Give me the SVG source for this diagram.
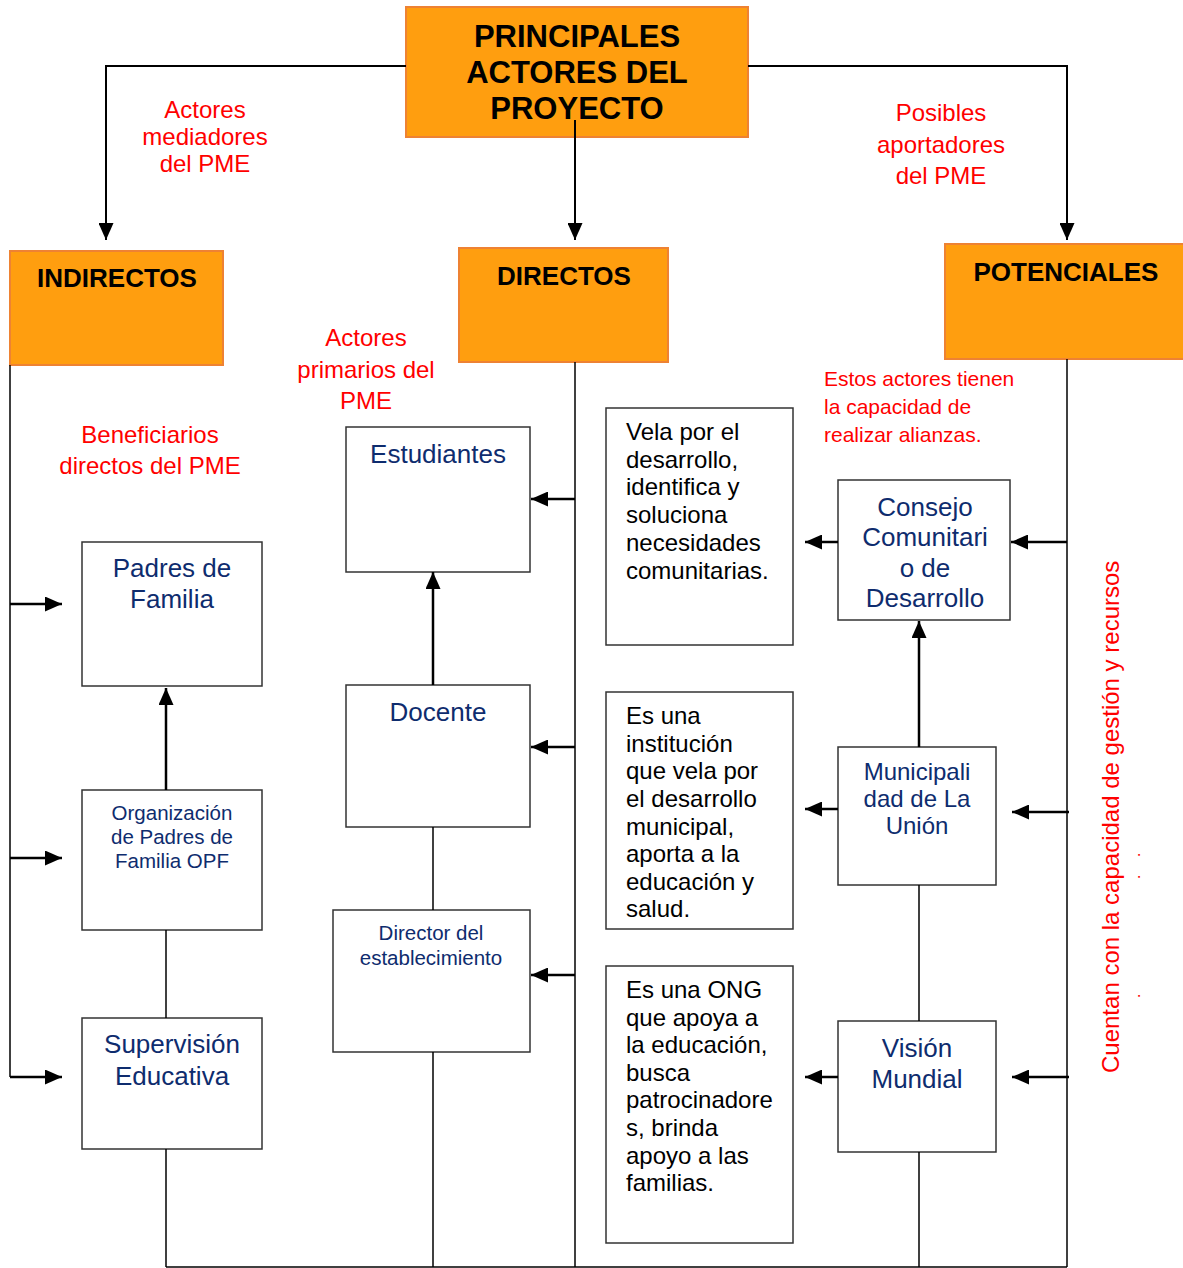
<svg xmlns="http://www.w3.org/2000/svg" width="1183" height="1268" viewBox="0 0 1183 1268">
<style>
.hd{fill:#FF9E0F;stroke:#EE8233;stroke-width:2}
.bx{fill:#fff;stroke:#333;stroke-width:1.5}
.ht{font-family:"Liberation Sans",Arial,sans-serif;font-weight:bold;fill:#000;text-anchor:middle}
.bt{font-family:"Liberation Sans",Arial,sans-serif;fill:#0E2C6E;text-anchor:middle}
.kt{font-family:"Liberation Sans",Arial,sans-serif;fill:#000;font-size:24px}
.rt{font-family:"Liberation Sans",Arial,sans-serif;fill:#FF0000;font-size:24px;text-anchor:middle}
.rl{font-family:"Liberation Sans",Arial,sans-serif;fill:#FF0000;font-size:21px;text-anchor:start}
.rv{font-family:"Liberation Sans",Arial,sans-serif;fill:#FF0000;font-size:24px;text-anchor:start}
.dot{font-family:"Liberation Sans",Arial,sans-serif;fill:#FF0000;font-size:17px;text-anchor:middle}
.ln{fill:none;stroke:#000;stroke-width:1.5}
.ar{fill:none;stroke:#000;stroke-width:2.5;marker-end:url(#ah)}
.ar2{fill:none;stroke:#000;stroke-width:2;marker-end:url(#ah)}
</style>
<defs>
<marker id="ah" viewBox="0 0 17 15" refX="17" refY="7.5" markerWidth="17" markerHeight="15" orient="auto" markerUnits="userSpaceOnUse"><path d="M0,0 L17,7.5 L0,15 z" fill="#000"/></marker>
</defs>
<rect width="1183" height="1268" fill="#fff"/>

<g id="title">
<rect class="hd" x="406" y="7" width="342" height="130"/>
<text class="ht" font-size="31" x="577" y="47">PRINCIPALES</text>
<text class="ht" font-size="31" x="577" y="83">ACTORES DEL</text>
<text class="ht" font-size="31" x="577" y="119">PROYECTO</text>
</g>

<g id="indirectos">
<rect class="hd" x="10" y="251" width="213" height="114"/>
<text class="ht" font-size="26" x="117" y="287">INDIRECTOS</text>
</g>
<g id="directos">
<rect class="hd" x="459" y="248" width="209" height="114"/>
<text class="ht" font-size="26" x="564" y="285">DIRECTOS</text>
</g>
<g id="potenciales">
<rect class="hd" x="945" y="244" width="240" height="115"/>
<text class="ht" font-size="26" x="1066" y="281">POTENCIALES</text>
</g>

<g id="labels">
<text class="rt" x="205" y="118">Actores</text>
<text class="rt" x="205" y="145">mediadores</text>
<text class="rt" x="205" y="172">del PME</text>
<text class="rt" x="941" y="121">Posibles</text>
<text class="rt" x="941" y="153">aportadores</text>
<text class="rt" x="941" y="184">del PME</text>
<text class="rt" x="366" y="346">Actores</text>
<text class="rt" x="366" y="378">primarios del</text>
<text class="rt" x="366" y="409">PME</text>
<text class="rt" x="150" y="443">Beneficiarios</text>
<text class="rt" x="150" y="474">directos del PME</text>
<text class="rl" x="824" y="386">Estos actores tienen</text>
<text class="rl" x="824" y="414">la capacidad de</text>
<text class="rl" x="824" y="442">realizar alianzas.</text>
<text class="rv" transform="translate(1119,1073) rotate(-90)">Cuentan con la capacidad de gestión y recursos</text>
<text class="dot" transform="translate(1140,855) rotate(-90)">.</text>
<text class="dot" transform="translate(1140,877) rotate(-90)">.</text>
<text class="dot" transform="translate(1140,996) rotate(-90)">.</text>
</g>

<g id="padres">
<rect class="bx" x="82" y="542" width="180" height="144"/>
<text class="bt" font-size="26" x="172" y="577">Padres de</text>
<text class="bt" font-size="26" x="172" y="608">Familia</text>
</g>
<g id="opf">
<rect class="bx" x="82" y="790" width="180" height="140"/>
<text class="bt" font-size="20.5" x="172" y="820">Organización</text>
<text class="bt" font-size="20.5" x="172" y="844">de Padres de</text>
<text class="bt" font-size="20.5" x="172" y="868">Familia OPF</text>
</g>
<g id="supervision">
<rect class="bx" x="82" y="1018" width="180" height="131"/>
<text class="bt" font-size="26" x="172" y="1053">Supervisión</text>
<text class="bt" font-size="26" x="172" y="1085">Educativa</text>
</g>

<g id="estudiantes">
<rect class="bx" x="346" y="427" width="184" height="145"/>
<text class="bt" font-size="26" x="438" y="463">Estudiantes</text>
</g>
<g id="docente">
<rect class="bx" x="346" y="685" width="184" height="142"/>
<text class="bt" font-size="26" x="438" y="721">Docente</text>
</g>
<g id="director">
<rect class="bx" x="333" y="910" width="197" height="142"/>
<text class="bt" font-size="20.5" x="431" y="940">Director del</text>
<text class="bt" font-size="20.5" x="431" y="965">establecimiento</text>
</g>

<g id="desc-consejo">
<rect class="bx" x="606" y="408" width="187" height="237"/>
<text class="kt" x="626" y="440">Vela por el</text>
<text class="kt" x="626" y="468">desarrollo,</text>
<text class="kt" x="626" y="495">identifica y</text>
<text class="kt" x="626" y="523">soluciona</text>
<text class="kt" x="626" y="551">necesidades</text>
<text class="kt" x="626" y="579">comunitarias.</text>
</g>
<g id="desc-municipalidad">
<rect class="bx" x="606" y="692" width="187" height="237"/>
<text class="kt" x="626" y="724">Es una</text>
<text class="kt" x="626" y="752">institución</text>
<text class="kt" x="626" y="779">que vela por</text>
<text class="kt" x="626" y="807">el desarrollo</text>
<text class="kt" x="626" y="835">municipal,</text>
<text class="kt" x="626" y="862">aporta a la</text>
<text class="kt" x="626" y="890">educación y</text>
<text class="kt" x="626" y="917">salud.</text>
</g>
<g id="desc-vision">
<rect class="bx" x="606" y="966" width="187" height="277"/>
<text class="kt" x="626" y="998">Es una ONG</text>
<text class="kt" x="626" y="1026">que apoya a</text>
<text class="kt" x="626" y="1053">la educación,</text>
<text class="kt" x="626" y="1081">busca</text>
<text class="kt" x="626" y="1108">patrocinadore</text>
<text class="kt" x="626" y="1136">s, brinda</text>
<text class="kt" x="626" y="1164">apoyo a las</text>
<text class="kt" x="626" y="1191">familias.</text>
</g>

<g id="consejo">
<rect class="bx" x="838" y="480" width="172" height="140"/>
<text class="bt" font-size="26" x="925" y="516">Consejo</text>
<text class="bt" font-size="26" x="925" y="546">Comunitari</text>
<text class="bt" font-size="26" x="925" y="577">o de</text>
<text class="bt" font-size="26" x="925" y="607">Desarrollo</text>
</g>
<g id="municipalidad">
<rect class="bx" x="838" y="747" width="158" height="138"/>
<text class="bt" font-size="24" x="917" y="780">Municipali</text>
<text class="bt" font-size="24" x="917" y="807">dad de La</text>
<text class="bt" font-size="24" x="917" y="834">Unión</text>
</g>
<g id="vision">
<rect class="bx" x="838" y="1021" width="158" height="131"/>
<text class="bt" font-size="26" x="917" y="1057">Visión</text>
<text class="bt" font-size="26" x="917" y="1088">Mundial</text>
</g>

<g id="connectors">
<path class="ar2" d="M406,66 H106 V240"/>
<path class="ar2" d="M575,120 V240"/>
<path class="ar2" d="M748,66 H1067 V240"/>
<path class="ln" d="M10,365 V1077"/>
<path class="ar" d="M10,604 H62"/>
<path class="ar" d="M10,858 H62"/>
<path class="ar" d="M10,1077 H62"/>
<path class="ar" d="M166,790 V688"/>
<path class="ln" stroke-width="2.5" d="M166,930 V1018"/>
<path class="ln" stroke-width="2.5" d="M166,1149 V1267"/>
<path class="ln" stroke-width="1.2" d="M575,362 V1267"/>
<path class="ar" d="M433,685 V572"/>
<path class="ln" stroke-width="2.5" d="M433,827 V910"/>
<path class="ln" stroke-width="2.5" d="M433,1052 V1267"/>
<path class="ar" d="M575,499 H531"/>
<path class="ar" d="M575,747 H531"/>
<path class="ar" d="M575,975 H531"/>
<path class="ln" stroke-width="1.2" d="M1067,359 V1267"/>
<path class="ar" d="M919,747 V621"/>
<path class="ln" stroke-width="2.5" d="M919,885 V1021"/>
<path class="ln" stroke-width="2.5" d="M919,1152 V1267"/>
<path class="ar" d="M838,542 H805"/>
<path class="ar" d="M838,809 H805"/>
<path class="ar" d="M838,1077 H805"/>
<path class="ar" d="M1067,542 H1011"/>
<path class="ar" d="M1069,812 H1012"/>
<path class="ar" d="M1069,1077 H1012"/>
<path class="ln" stroke-width="1.5" d="M166,1267 H1067"/>
</g>
</svg>
